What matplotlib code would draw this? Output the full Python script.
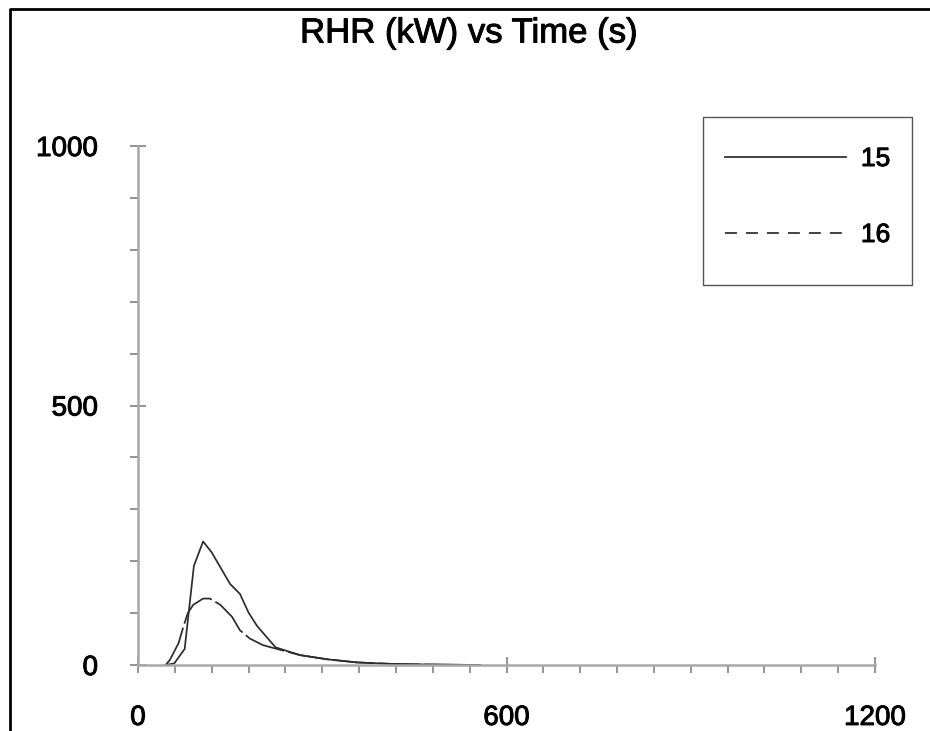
import matplotlib
matplotlib.use("Agg")
import matplotlib.pyplot as plt
import matplotlib.patheffects as pe
from matplotlib.lines import Line2D
from matplotlib.patches import Rectangle
from matplotlib.ticker import MultipleLocator

plt.rcParams['font.family'] = ['Liberation Sans', 'DejaVu Sans']
plt.rcParams['lines.scale_dashes'] = False

# Rate of heat release, test 15
time_15 = [45, 59, 76, 91, 106, 120, 150, 166, 180, 194, 224, 264, 308, 356, 415, 470, 557]
rhr_15 = [0, 3, 31, 191, 238, 217, 156, 137, 101, 75, 34, 19, 11, 5, 2, 1, 0]

# Rate of heat release, test 16
time_16 = [45, 52, 66, 74, 81, 90, 106, 117, 134, 153, 166, 182, 204, 223, 264, 308, 356, 415, 470, 557]
rhr_16 = [0, 10, 42, 74, 100, 116, 128, 128, 116, 93, 67, 51, 38, 32, 19, 11, 5, 2, 1, 0]

series_labels = ["15", "16"]
x_major = [0, 600, 1200]
y_major = [0, 500, 1000]
title = "RHR (kW) vs Time (s)"

W, H = 930, 731
fig = plt.figure(figsize=(W / 100, H / 100), dpi=100)
fig.patch.set_facecolor("white")

# slightly heavier glyphs for all text
heavy = [pe.withStroke(linewidth=0.7, foreground="black")]

ax = fig.add_axes([138 / W, (H - 665) / H, (875 - 138) / W, (665 - 146) / H])
line_col = "#2c2c2c"
ax.plot(time_15, rhr_15, color=line_col, lw=1.25, solid_joinstyle="round")
ax.plot(time_16, rhr_16, color=line_col, lw=1.25, linestyle=(0, (30, 3)))

ax.set_xlim(0, 1200)
ax.set_ylim(0, 1000)
axis_col = "#a8a8a8"
for side in ("top", "right"):
    ax.spines[side].set_visible(False)
for side in ("left", "bottom"):
    ax.spines[side].set_color(axis_col)
    ax.spines[side].set_linewidth(1.8)

ax.set_xticks(x_major)
ax.set_yticks(y_major)
ax.set_xticklabels([str(v) for v in x_major])
ax.set_yticklabels([str(v) for v in y_major])
ax.xaxis.set_minor_locator(MultipleLocator(60))
ax.yaxis.set_minor_locator(MultipleLocator(100))
ax.tick_params(which="major", direction="inout", length=11.5, width=1.3,
               color="#8a8a8a", labelsize=20, pad=23)
ax.tick_params(which="minor", direction="out", length=5.8, width=1.3,
               color="#8a8a8a")
for lbl in ax.get_xticklabels() + ax.get_yticklabels():
    lbl.set_path_effects(heavy)
ax.set_facecolor("white")

fig.text(469 / W, 1 - 33 / H, title, ha="center", va="center", fontsize=25,
         path_effects=heavy)

# legend frame and entries
fig.add_artist(Rectangle((703 / W, 1 - 285 / H), (912 - 703) / W, (285 - 117) / H,
                         transform=fig.transFigure, fill=False,
                         edgecolor="#555555", lw=1.0))
handles = [Line2D([], [], color=line_col, lw=1.25),
           Line2D([], [], color=line_col, lw=1.25, linestyle=(0, (8.6, 6.5)))]
leg = ax.legend(handles, series_labels, loc="upper left",
                bbox_to_anchor=(725 / W, 1 - 147 / H), bbox_transform=fig.transFigure,
                frameon=False, fontsize=19, handlelength=4.6, handletextpad=0.55,
                labelspacing=1.97, borderpad=0, borderaxespad=0)
for t in leg.get_texts():
    t.set_path_effects(heavy)

# outer border
fig.add_artist(Line2D([10 / W, 10 / W, 1], [0, 1 - 9 / H, 1 - 9 / H],
                      transform=fig.transFigure, color="black", lw=2.0))

fig.savefig("out.png", dpi=100, facecolor="white")
